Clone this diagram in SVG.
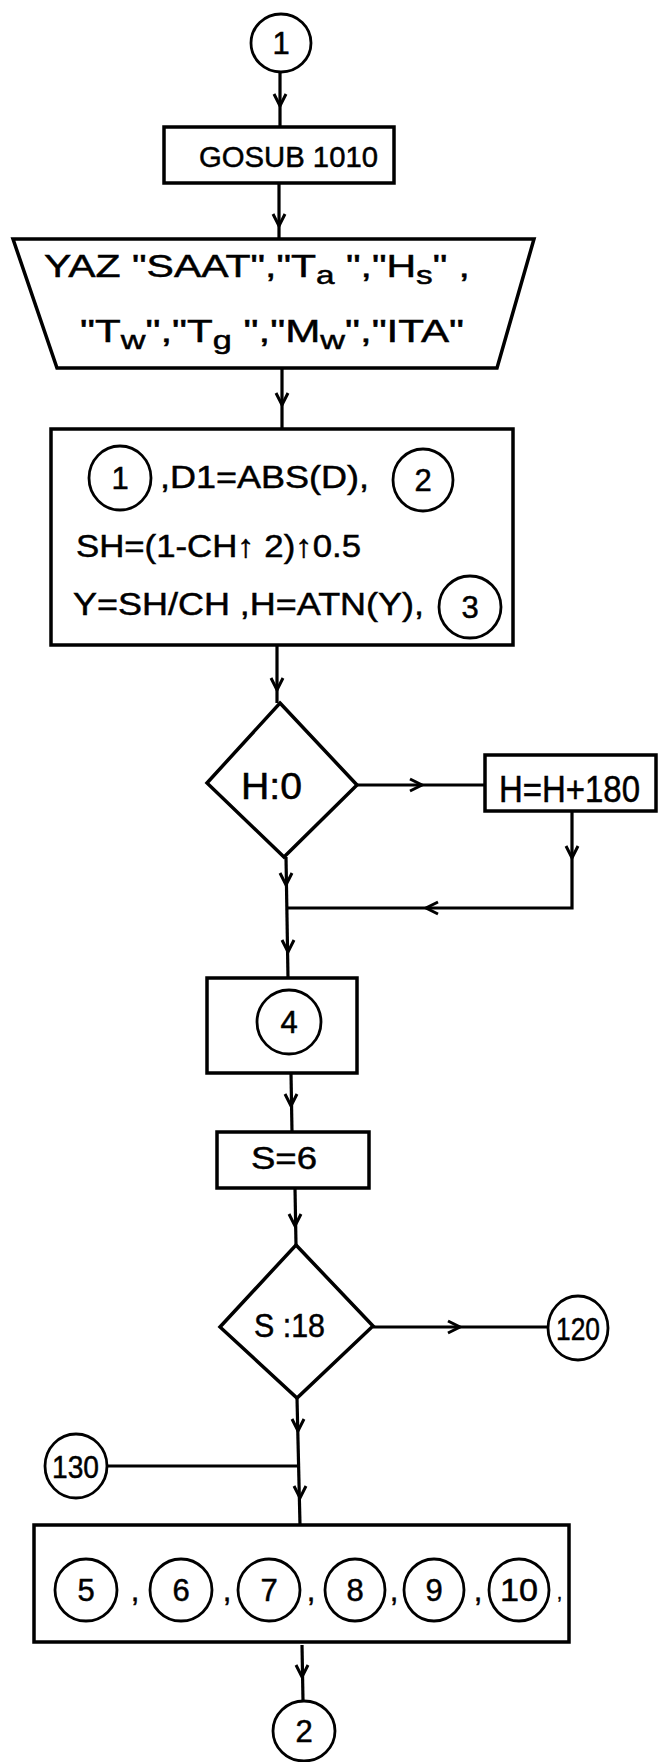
<svg xmlns="http://www.w3.org/2000/svg" width="658" height="1762" viewBox="0 0 658 1762">
<style>
text{font-family:"Liberation Sans",Arial,sans-serif;fill:#000;stroke:#000;stroke-width:0.5}
.box{fill:#fff;stroke:#000;stroke-width:3.5;stroke-linejoin:miter}
.circ{fill:#fff;stroke:#000;stroke-width:2.8}
.ln{fill:none;stroke:#000;stroke-width:3.2}
.t31{font-size:32px}
.sub{font-size:26px}
.num{font-size:31px;text-anchor:middle}
</style>
<defs>
<path id="chev" d="M-12,-6 L0,0 L-12,6" fill="none" stroke="#000" stroke-width="3"/>
</defs>
<rect width="658" height="1762" fill="#fff"/>

<g id="connectors">
<line class="ln" x1="280" y1="72" x2="280" y2="127"/>
<use href="#chev" transform="translate(280,106) rotate(90)"/>
<line class="ln" x1="279" y1="183" x2="279" y2="239"/>
<use href="#chev" transform="translate(279,226) rotate(90)"/>
<line class="ln" x1="282" y1="368" x2="282" y2="429"/>
<use href="#chev" transform="translate(282,405) rotate(90)"/>
<line class="ln" x1="277" y1="645" x2="277" y2="703"/>
<use href="#chev" transform="translate(277,690) rotate(90)"/>
<line class="ln" x1="357" y1="785" x2="485" y2="785"/>
<use href="#chev" transform="translate(422,785)"/>
<polyline class="ln" points="572,812 572,908 287,908"/>
<use href="#chev" transform="translate(572,858) rotate(90)"/>
<use href="#chev" transform="translate(426,908) rotate(180)"/>
<line class="ln" x1="286" y1="857" x2="288" y2="978"/>
<use href="#chev" transform="translate(286,885) rotate(90)"/>
<use href="#chev" transform="translate(288,952) rotate(90)"/>
<line class="ln" x1="291" y1="1073" x2="292" y2="1132"/>
<use href="#chev" transform="translate(291,1106) rotate(90)"/>
<line class="ln" x1="295" y1="1188" x2="296" y2="1245"/>
<use href="#chev" transform="translate(295,1226) rotate(90)"/>
<line class="ln" x1="373" y1="1327" x2="548" y2="1327"/>
<use href="#chev" transform="translate(460,1327)"/>
<line class="ln" x1="297" y1="1398" x2="300" y2="1525"/>
<use href="#chev" transform="translate(298,1431) rotate(90)"/>
<use href="#chev" transform="translate(300,1498) rotate(90)"/>
<line class="ln" x1="107" y1="1466" x2="299" y2="1466"/>
<line class="ln" x1="302" y1="1645" x2="303" y2="1701"/>
<use href="#chev" transform="translate(302,1677) rotate(90)"/>
</g>

<g id="start1">
<ellipse class="circ" cx="281" cy="43" rx="30" ry="29"/>
<text class="num" x="281" y="54">1</text>
</g>

<g id="gosub">
<rect class="box" x="164" y="127" width="230" height="56"/>
<text x="199" y="167" font-size="30" textLength="179" lengthAdjust="spacingAndGlyphs">GOSUB 1010</text>
</g>

<g id="yaz">
<polygon class="box" points="13,239 534,239 497,368 57,368"/>
<text class="t31" x="44" y="277" textLength="426" lengthAdjust="spacingAndGlyphs">YAZ "SAAT","T<tspan class="sub" dy="7">a</tspan><tspan dy="-7"> ","H</tspan><tspan class="sub" dy="7">s</tspan><tspan dy="-7">" ,</tspan></text>
<text class="t31" x="80" y="342" textLength="384" lengthAdjust="spacingAndGlyphs">"T<tspan class="sub" dy="7">w</tspan><tspan dy="-7">","T</tspan><tspan class="sub" dy="7">g</tspan><tspan dy="-7"> ","M</tspan><tspan class="sub" dy="7">w</tspan><tspan dy="-7">","ITA"</tspan></text>
</g>

<g id="calc">
<rect class="box" x="51" y="429" width="462" height="216"/>
<ellipse class="circ" cx="120" cy="478" rx="31" ry="32"/>
<text class="num" x="120" y="489">1</text>
<text class="t31" x="160" y="488" textLength="209" lengthAdjust="spacingAndGlyphs">,D1=ABS(D),</text>
<ellipse class="circ" cx="423" cy="480" rx="30" ry="31"/>
<text class="num" x="423" y="491">2</text>
<text class="t31" x="76" y="557" textLength="285" lengthAdjust="spacingAndGlyphs">SH=(1-CH↑ 2)↑0.5</text>
<text class="t31" x="73" y="615" textLength="351" lengthAdjust="spacingAndGlyphs">Y=SH/CH ,H=ATN(Y),</text>
<ellipse class="circ" cx="470" cy="607" rx="31" ry="31"/>
<text class="num" x="470" y="618">3</text>
</g>

<g id="decH">
<polygon class="box" points="280,703 357,785 284,857 207,783"/>
<text x="241" y="799" font-size="36" textLength="61" lengthAdjust="spacingAndGlyphs">H:0</text>
</g>

<g id="addH">
<rect class="box" x="485" y="755" width="171" height="56"/>
<text x="499" y="802" font-size="36" textLength="141" lengthAdjust="spacingAndGlyphs">H=H+180</text>
</g>

<g id="proc4">
<rect class="box" x="207" y="978" width="150" height="95"/>
<ellipse class="circ" cx="289" cy="1022" rx="32" ry="32"/>
<text class="num" x="289" y="1033">4</text>
</g>

<g id="s6">
<rect class="box" x="217" y="1132" width="152" height="56"/>
<text x="251" y="1169" font-size="32" textLength="66" lengthAdjust="spacingAndGlyphs">S=6</text>
</g>

<g id="decS">
<polygon class="box" points="296,1245 373,1326 297,1398 220,1327"/>
<text x="254" y="1337" font-size="33" textLength="71" lengthAdjust="spacingAndGlyphs">S :18</text>
</g>

<g id="c120">
<ellipse class="circ" cx="578" cy="1328" rx="30" ry="32"/>
<text x="556" y="1340" font-size="32" textLength="44" lengthAdjust="spacingAndGlyphs">120</text>
</g>

<g id="c130">
<ellipse class="circ" cx="76" cy="1466" rx="31" ry="32"/>
<text x="52" y="1478" font-size="32" textLength="47" lengthAdjust="spacingAndGlyphs">130</text>
</g>

<g id="proc5to10">
<rect class="box" x="34" y="1525" width="535" height="117"/>
<ellipse class="circ" cx="86" cy="1590" rx="31" ry="31"/>
<text class="num" x="86" y="1601">5</text>
<text class="num" x="135" y="1601">,</text>
<ellipse class="circ" cx="181" cy="1590" rx="31" ry="31"/>
<text class="num" x="181" y="1601">6</text>
<text class="num" x="227" y="1601">,</text>
<ellipse class="circ" cx="269" cy="1590" rx="31" ry="31"/>
<text class="num" x="269" y="1601">7</text>
<text class="num" x="311" y="1601">,</text>
<ellipse class="circ" cx="355" cy="1590" rx="30" ry="31"/>
<text class="num" x="355" y="1601">8</text>
<text class="num" x="394" y="1601">,</text>
<ellipse class="circ" cx="434" cy="1590" rx="30" ry="31"/>
<text class="num" x="434" y="1601">9</text>
<text class="num" x="478" y="1601">,</text>
<ellipse class="circ" cx="519" cy="1590" rx="30" ry="31"/>
<text class="num" x="519" y="1601" textLength="38" lengthAdjust="spacingAndGlyphs">10</text>
<text x="557" y="1599" font-size="18">,</text>
</g>

<g id="end2">
<ellipse class="circ" cx="304" cy="1731" rx="31" ry="30"/>
<text class="num" x="304" y="1742">2</text>
</g>
</svg>
